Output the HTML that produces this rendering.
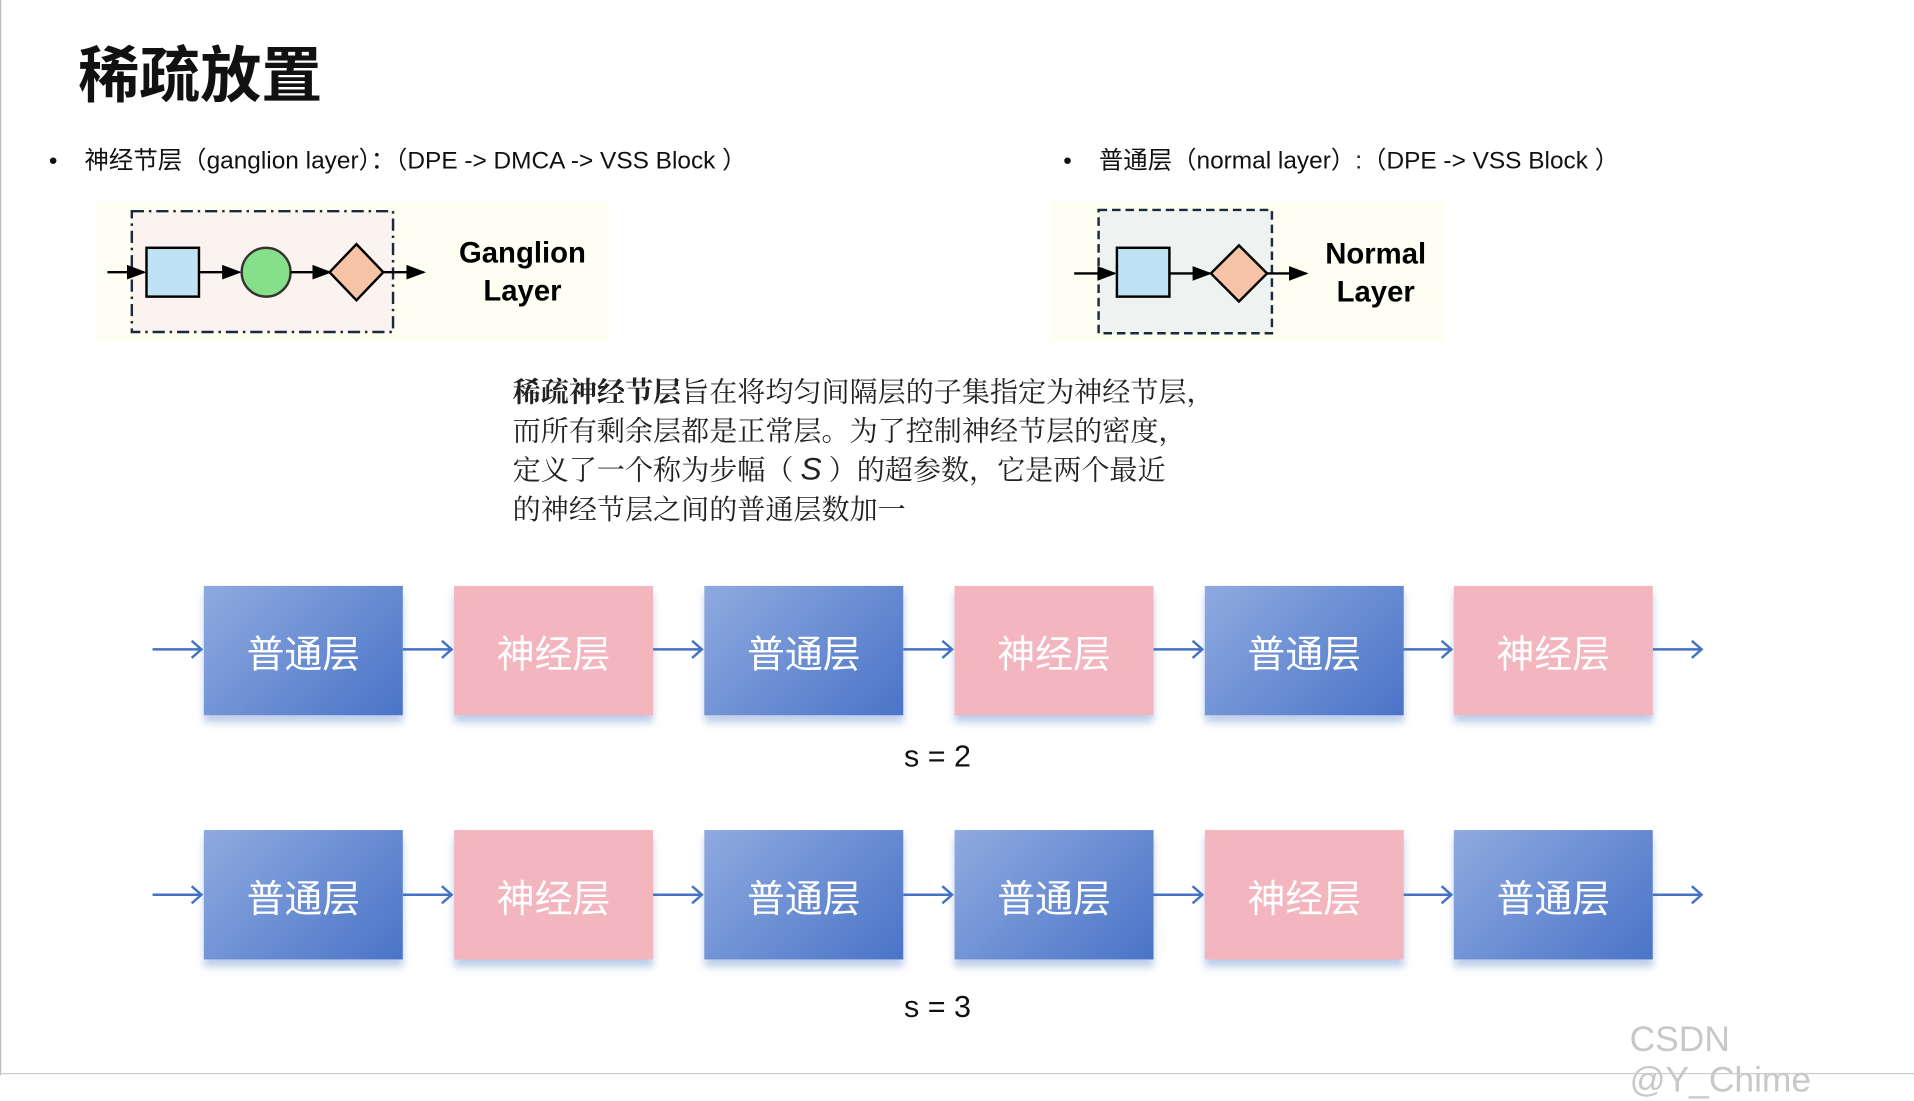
<!DOCTYPE html>
<html><head><meta charset="utf-8"><style>
html,body{margin:0;padding:0;background:#fff;overflow:hidden;width:1914px;height:1076px}
#w{position:absolute;left:0;top:0;width:1568px;height:881px;transform:scale(1.22066);transform-origin:0 0;font-family:"Liberation Sans","Noto Sans CJK SC",sans-serif;color:#111}
.a{position:absolute}
.box{position:absolute;width:163px;height:106px;color:#fff;font-size:31px;display:flex;align-items:center;justify-content:center;box-shadow:0 6px 6px rgba(68,114,196,0.35)}
.n{background:linear-gradient(135deg,#8faadf,#4a74c8)}
.g{background:#f3b6bf}
.lbl{font-weight:bold;font-size:24px;text-align:center;line-height:31px;color:#000}
</style></head><body><div id="w">
<div class="a" style="left:0;top:0;width:1px;height:881px;background:#bbb"></div>
<div class="a" style="left:64px;top:28px;font-size:50px;font-weight:bold;font-family:'Noto Sans CJK SC',sans-serif;line-height:60px">稀疏放置</div>
<div class="a" style="left:40px;top:118px;font-size:20px;line-height:28px">•&nbsp;&nbsp;&nbsp;&nbsp;神经节层（ganglion layer）：（DPE -&gt; DMCA -&gt; VSS Block ）</div>
<div class="a" style="left:871px;top:118px;font-size:20px;line-height:28px">•&nbsp;&nbsp;&nbsp;&nbsp;普通层（normal layer）:（DPE -&gt; VSS Block ）</div>
<div class="a" style="left:79px;top:165px;width:420px;height:115px;background:#fefef2"></div>
<div class="a" style="left:860px;top:165px;width:323px;height:115px;background:#fefef2"></div>
<svg class="a" style="left:0;top:0" width="1568" height="300">
<defs><marker id="m" markerWidth="8" markerHeight="8" refX="7" refY="4" orient="auto"><path d="M0,1 L8,4 L0,7z" fill="#000"/></marker></defs>
<rect x="108" y="173" width="214" height="99" fill="#fbf3ef" stroke="#1a2a3a" stroke-width="2" stroke-dasharray="10,4,2,4"/>
<line x1="88" y1="223" x2="118" y2="223" stroke="#000" stroke-width="2" marker-end="url(#m)"/>
<rect x="120" y="203" width="43" height="40" fill="#bfe3f4" stroke="#000" stroke-width="2"/>
<line x1="163" y1="223" x2="196" y2="223" stroke="#000" stroke-width="2" marker-end="url(#m)"/>
<circle cx="218" cy="223" r="20" fill="#86e08a" stroke="#333" stroke-width="2"/>
<line x1="238" y1="223" x2="270" y2="223" stroke="#000" stroke-width="2" marker-end="url(#m)"/>
<path d="M292,200 L314,223 L292,246 L270,223z" fill="#f7c3a6" stroke="#000" stroke-width="2"/>
<line x1="314" y1="223" x2="347" y2="223" stroke="#000" stroke-width="2" marker-end="url(#m)"/>
<rect x="900" y="172" width="142" height="101" fill="#eef3f2" stroke="#1a2a3a" stroke-width="2" stroke-dasharray="7,4"/>
<line x1="880" y1="224" x2="913" y2="224" stroke="#000" stroke-width="2" marker-end="url(#m)"/>
<rect x="915" y="203" width="43" height="40" fill="#bfe3f4" stroke="#000" stroke-width="2"/>
<line x1="958" y1="224" x2="991" y2="224" stroke="#000" stroke-width="2" marker-end="url(#m)"/>
<path d="M1015,201 L1038,224 L1015,247 L992,224z" fill="#f7c3a6" stroke="#000" stroke-width="2"/>
<line x1="1038" y1="224" x2="1070" y2="224" stroke="#000" stroke-width="2" marker-end="url(#m)"/>
</svg>
<div class="a lbl" style="left:358px;top:192px;width:140px">Ganglion<br>Layer</div>
<div class="a lbl" style="left:1068px;top:193px;width:118px">Normal<br>Layer</div>
<div class="a" style="left:420px;top:306px;font-size:23px;line-height:31.5px;font-family:'Liberation Serif','Noto Serif CJK SC',serif;color:#222"><b>稀疏神经节层</b>旨在将均匀间隔层的子集指定为神经节层，<br>而所有剩余层都是正常层。为了控制神经节层的密度，<br>定义了一个称为步幅（ <i style="font-family:'Liberation Sans',sans-serif;font-size:26px">S</i> ）的超参数，它是两个最近<br>的神经节层之间的普通层数加一</div>
<svg class="a" style="left:0;top:0" width="1568" height="881">
<g stroke="#4472c4" stroke-width="2" fill="none">
<path d="M125,532 H165 M157,525 L165,532 L157,539"/>
<path d="M330,532 H370 M362,525 L370,532 L362,539"/>
<path d="M535,532 H575 M567,525 L575,532 L567,539"/>
<path d="M740,532 H780 M772,525 L780,532 L772,539"/>
<path d="M945,532 H985 M977,525 L985,532 L977,539"/>
<path d="M1149,532 H1189 M1181,525 L1189,532 L1181,539"/>
<path d="M1354,532 H1394 M1386,525 L1394,532 L1386,539"/>
<path d="M125,733 H165 M157,726 L165,733 L157,740"/>
<path d="M330,733 H370 M362,726 L370,733 L362,740"/>
<path d="M535,733 H575 M567,726 L575,733 L567,740"/>
<path d="M740,733 H780 M772,726 L780,733 L772,740"/>
<path d="M945,733 H985 M977,726 L985,733 L977,740"/>
<path d="M1149,733 H1189 M1181,726 L1189,733 L1181,740"/>
<path d="M1354,733 H1394 M1386,726 L1394,733 L1386,740"/>
</g></svg>
<div class="box n" style="left:167px;top:480px">普通层</div>
<div class="box g" style="left:372px;top:480px">神经层</div>
<div class="box n" style="left:577px;top:480px">普通层</div>
<div class="box g" style="left:782px;top:480px">神经层</div>
<div class="box n" style="left:987px;top:480px">普通层</div>
<div class="box g" style="left:1191px;top:480px">神经层</div>
<div class="a" style="left:718px;top:606px;width:100px;text-align:center;font-size:25px">s = 2</div>
<div class="box n" style="left:167px;top:680px">普通层</div>
<div class="box g" style="left:372px;top:680px">神经层</div>
<div class="box n" style="left:577px;top:680px">普通层</div>
<div class="box n" style="left:782px;top:680px">普通层</div>
<div class="box g" style="left:987px;top:680px">神经层</div>
<div class="box n" style="left:1191px;top:680px">普通层</div>
<div class="a" style="left:718px;top:811px;width:100px;text-align:center;font-size:25px">s = 3</div>
<div class="a" style="left:1335px;top:836px;font-size:29px;color:#c8c8c8">CSDN @Y_Chime</div>
<div class="a" style="left:0;top:879px;width:1568px;height:1px;background:#ccc"></div>
</div></body></html>
